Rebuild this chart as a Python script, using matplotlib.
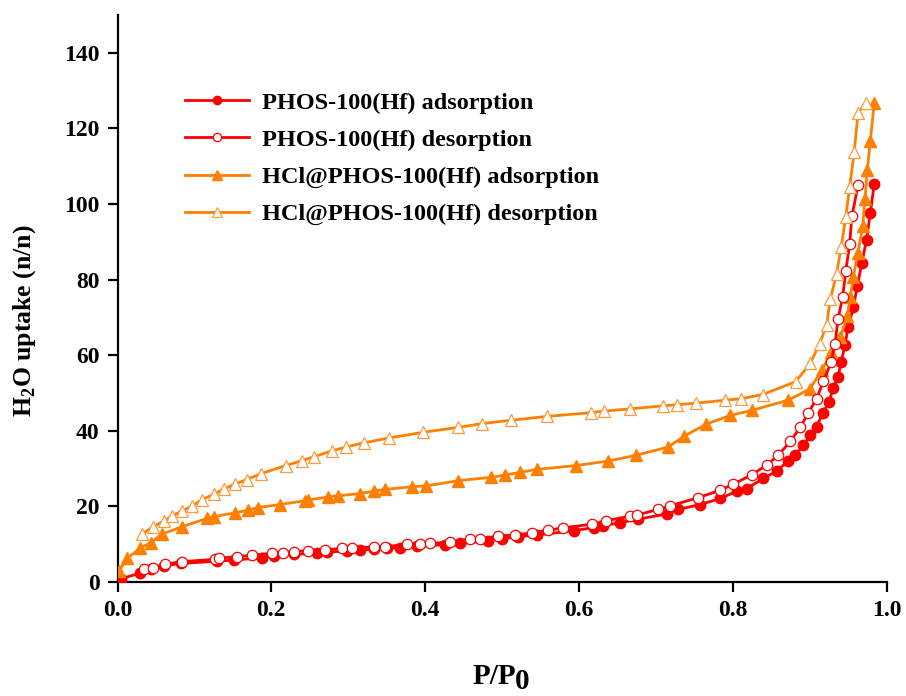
import matplotlib
matplotlib.use('Agg')
import matplotlib.pyplot as plt

# PHOS-100(Hf) adsorption
phos_ads_x = [0.005, 0.029, 0.044, 0.060, 0.083, 0.129, 0.151, 0.188, 0.203, 0.229,
              0.259, 0.272, 0.298, 0.315, 0.333, 0.350, 0.367, 0.389, 0.426, 0.446,
              0.482, 0.500, 0.521, 0.545, 0.594, 0.619, 0.631, 0.654, 0.677, 0.714,
              0.729, 0.758, 0.784, 0.805, 0.818, 0.840, 0.857, 0.872, 0.881, 0.892,
              0.901, 0.909, 0.917, 0.925, 0.931, 0.937, 0.941, 0.946, 0.950, 0.957,
              0.962, 0.968, 0.974, 0.979, 0.984]
phos_ads_y = [0.9, 2.3, 3.4, 4.3, 4.9, 5.5, 5.8, 6.4, 7.0, 7.3,
              7.6, 7.9, 8.2, 8.4, 8.7, 8.9, 9.1, 9.4, 9.9, 10.2,
              10.9, 11.4, 12.0, 12.4, 13.6, 14.4, 14.9, 15.7, 16.6, 18.0,
              19.2, 20.5, 22.1, 24.0, 24.7, 27.4, 29.3, 32.0, 33.5, 36.2,
              38.8, 41.0, 44.6, 47.5, 51.4, 54.2, 58.2, 62.6, 67.4, 72.7,
              78.3, 84.4, 90.6, 97.6, 105.3]

# PHOS-100(Hf) desorption
phos_des_x = [0.034, 0.046, 0.062, 0.084, 0.127, 0.132, 0.155, 0.175, 0.201, 0.215,
              0.229, 0.248, 0.270, 0.292, 0.305, 0.333, 0.348, 0.377, 0.393, 0.407,
              0.432, 0.458, 0.471, 0.495, 0.517, 0.539, 0.560, 0.579, 0.617, 0.635,
              0.666, 0.675, 0.703, 0.718, 0.755, 0.784, 0.801, 0.825, 0.844, 0.859,
              0.875, 0.888, 0.898, 0.909, 0.918, 0.928, 0.933, 0.937, 0.943, 0.947,
              0.952, 0.955, 0.963]
phos_des_y = [3.4, 3.8, 4.7, 5.4, 6.0, 6.3, 6.7, 7.1, 7.6, 7.8,
              8.0, 8.3, 8.5, 8.9, 8.9, 9.3, 9.3, 10.0, 10.0, 10.2,
              10.6, 11.3, 11.3, 12.2, 12.4, 13.0, 13.7, 14.3, 15.3, 16.2,
              17.4, 17.7, 19.2, 20.1, 22.3, 24.3, 25.9, 28.4, 30.9, 33.5,
              37.2, 41.0, 44.6, 48.5, 53.1, 58.2, 63.0, 69.5, 75.5, 82.2,
              89.3, 96.7, 105.0]

# HCl@PHOS-100(Hf) adsorption
hcl_ads_x = [0.002, 0.013, 0.029, 0.043, 0.058, 0.084, 0.116, 0.125, 0.153, 0.170,
             0.183, 0.211, 0.244, 0.248, 0.274, 0.287, 0.315, 0.333, 0.348, 0.383,
             0.401, 0.443, 0.486, 0.504, 0.523, 0.546, 0.596, 0.638, 0.674, 0.716,
             0.737, 0.765, 0.797, 0.825, 0.872, 0.900, 0.916, 0.928, 0.940, 0.949,
             0.953, 0.957, 0.963, 0.969, 0.972, 0.975, 0.979, 0.984]
hcl_ads_y = [3.0, 6.3, 8.9, 10.4, 12.7, 14.6, 16.8, 17.3, 18.3, 19.0,
             19.7, 20.5, 21.5, 21.7, 22.5, 22.8, 23.4, 24.0, 24.5, 25.2,
             25.4, 26.8, 27.7, 28.3, 29.0, 29.8, 30.8, 32.0, 33.5, 35.7,
             38.6, 41.7, 44.1, 45.4, 48.1, 51.0, 56.0, 60.8, 64.8, 70.3,
             75.5, 80.8, 87.1, 94.1, 101.3, 109.0, 116.7, 126.6]

# HCl@PHOS-100(Hf) desorption
hcl_des_x = [0.032, 0.046, 0.060, 0.071, 0.084, 0.097, 0.110, 0.125, 0.138, 0.153,
             0.168, 0.187, 0.219, 0.240, 0.255, 0.279, 0.297, 0.320, 0.353, 0.397,
             0.443, 0.474, 0.512, 0.558, 0.616, 0.632, 0.667, 0.709, 0.727, 0.752,
             0.790, 0.811, 0.839, 0.882, 0.901, 0.913, 0.922, 0.927, 0.935, 0.941,
             0.947, 0.952, 0.958, 0.963, 0.973]
hcl_des_y = [12.7, 14.6, 16.1, 17.5, 18.8, 20.1, 21.8, 23.2, 24.6, 25.9,
             27.1, 28.7, 30.8, 32.1, 33.1, 34.7, 35.7, 36.8, 38.1, 39.6,
             40.9, 41.9, 42.8, 43.8, 44.8, 45.2, 45.8, 46.6, 46.9, 47.3,
             48.1, 48.5, 49.6, 53.0, 57.9, 63.0, 67.9, 74.9, 81.5, 88.6,
             96.5, 104.4, 113.8, 124.1, 126.6]

plt.rcParams['font.family'] = ['Liberation Serif', 'DejaVu Serif']
plt.rcParams['font.weight'] = 'bold'
plt.rcParams['mathtext.fontset'] = 'custom'
plt.rcParams['mathtext.rm'] = 'Liberation Serif:bold'
plt.rcParams['mathtext.bf'] = 'Liberation Serif:bold'

red = '#ff0000'
orange = '#ff8000'

W, H = 906, 696
fig = plt.figure(figsize=(W / 100, H / 100), dpi=100)
ax = fig.add_axes([117.5 / W, 114 / H, 769 / W, 567 / H])

ax.plot(phos_ads_x, phos_ads_y, color=red, lw=2, marker='o', ms=7.5,
        mfc=red, mec=red, label='PHOS-100(Hf) adsorption', zorder=3)
ax.plot(phos_des_x, phos_des_y, color=red, lw=2, marker='o', ms=7.5,
        mfc='white', mec=red, mew=0.9, label='PHOS-100(Hf) desorption', zorder=4)
ax.plot(hcl_ads_x, hcl_ads_y, color=orange, lw=2, marker='^', ms=8.5,
        mfc=orange, mec=orange, label='HCl@PHOS-100(Hf) adsorption', zorder=3)
ax.plot(hcl_des_x, hcl_des_y, color=orange, lw=2, marker='^', ms=8.5,
        mfc='white', mec='#ff9a3c', mew=0.9, label='HCl@PHOS-100(Hf) desorption', zorder=4)

ax.set_xlim(0, 1.0)
ax.set_ylim(0, 150)
ax.set_xticks([0.0, 0.2, 0.4, 0.6, 0.8, 1.0])
ax.set_yticks(range(0, 141, 20))
ax.set_xticklabels(['0.0', '0.2', '0.4', '0.6', '0.8', '1.0'])
ax.spines['top'].set_visible(False)
ax.spines['right'].set_visible(False)
for s in ['left', 'bottom']:
    ax.spines[s].set_linewidth(1.6)
ax.tick_params(direction='out', length=7, width=1.6, labelsize=17, pad=6)
for lab in ax.get_xticklabels() + ax.get_yticklabels():
    lab.set_fontweight('bold')

# x label "P/P0", the subscript 0 is as big as the letters in the original
fig.text(473 / W, (H - 684) / H, 'P/P', ha='left', va='baseline',
         fontsize=21, fontweight='bold')
fig.text(515 / W, (H - 689) / H, '0', ha='left', va='baseline',
         fontsize=21, fontweight='bold')

ax.set_ylabel(r'H$_\mathbf{2}$O uptake (n/n)', fontsize=18.5, fontweight='bold')
ax.yaxis.set_label_coords(-0.103, 0.46)

leg = ax.legend(loc='upper left', bbox_to_anchor=(185 / W, 0.868),
                bbox_transform=fig.transFigure, frameon=False, fontsize=17.5,
                handlelength=2.65, handletextpad=0.5, labelspacing=0.62,
                borderpad=0, borderaxespad=0, markerscale=0.8)
for t in leg.get_texts():
    t.set_fontweight('bold')

fig.savefig('out.png', dpi=100)
